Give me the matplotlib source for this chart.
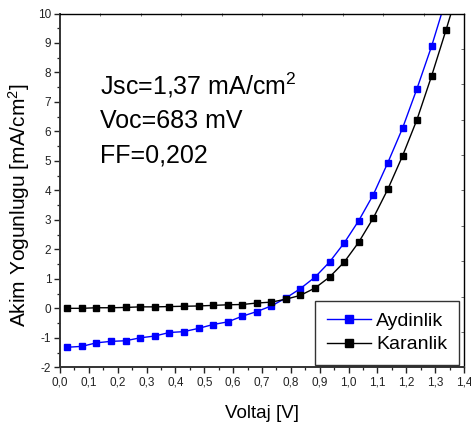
import matplotlib
matplotlib.use("Agg")
import matplotlib.pyplot as plt
from matplotlib.ticker import MultipleLocator, FixedLocator, NullFormatter

plt.rcParams['font.family'] = ['Liberation Sans', 'DejaVu Sans']
plt.rcParams['mathtext.fontset'] = 'custom'
plt.rcParams['mathtext.rm'] = 'Liberation Sans'
plt.rcParams['mathtext.it'] = 'Liberation Sans'

# ---- data ----
voltage = [0.025, 0.076, 0.126, 0.177, 0.227, 0.278, 0.328, 0.379, 0.429,
           0.480, 0.530, 0.581, 0.631, 0.682, 0.732, 0.783, 0.833, 0.884,
           0.934, 0.985, 1.035, 1.086, 1.136, 1.187, 1.237, 1.288, 1.338, 1.389]
aydinlik = [-1.32, -1.29, -1.17, -1.12, -1.10, -1.00, -0.94, -0.82, -0.79,
            -0.68, -0.55, -0.46, -0.27, -0.11, 0.08, 0.35, 0.67, 1.06,
            1.57, 2.22, 2.97, 3.86, 4.94, 6.11, 7.45, 8.90, 10.5]
karanlik = [0.00, 0.00, 0.02, 0.02, 0.03, 0.05, 0.05, 0.06, 0.07,
            0.08, 0.10, 0.12, 0.13, 0.18, 0.21, 0.31, 0.44, 0.69,
            1.06, 1.57, 2.24, 3.07, 4.04, 5.17, 6.40, 7.89, 9.45, 11.1]
series_names = ['Aydinlik', 'Karanlik']
series_colors = ['#0000ff', '#000000']
xtick_vals = [0.0, 0.1, 0.2, 0.3, 0.4, 0.5, 0.6, 0.7, 0.8, 0.9, 1.0, 1.1, 1.2, 1.3, 1.4]
xtick_labels = ['0,0', '0,1', '0,2', '0,3', '0,4', '0,5', '0,6', '0,7',
                '0,8', '0,9', '1,0', '1,1', '1,2', '1,3', '1,4']
ytick_vals = [-2, -1, 0, 1, 2, 3, 4, 5, 6, 7, 8, 9, 10]
annot_lines = [r'Jsc=1,37 mA/cm$^{2}$', 'Voc=683 mV', 'FF=0,202']

W, H = 471, 428
fig = plt.figure(figsize=(W / 100, H / 100), dpi=100)
ax = fig.add_axes([60 / W, 1 - 367.3 / H, (464 - 60) / W, (367.3 - 13.5) / H])

ax.plot(voltage[:len(aydinlik)], aydinlik, color=series_colors[0], lw=1.0,
        marker='s', ms=4.6, mec=series_colors[0], mfc=series_colors[0],
        label=series_names[0], clip_on=True)
ax.plot(voltage[:len(karanlik)], karanlik, color=series_colors[1], lw=1.0,
        marker='s', ms=4.6, mec=series_colors[1], mfc=series_colors[1],
        label=series_names[1], clip_on=True)

ax.set_xlim(0, 1.4)
ax.set_ylim(-2, 10)
ax.set_xticks(xtick_vals)
ax.set_xticklabels(xtick_labels)
ax.set_yticks(ytick_vals)
ax.set_yticklabels([str(v) for v in ytick_vals])
ax.xaxis.set_minor_locator(MultipleLocator(0.05))
ax.yaxis.set_minor_locator(MultipleLocator(0.5))
ax.tick_params(which='major', direction='out', length=4.3, width=1.0,
               labelsize=8.5, colors='#222222', pad=2)
ax.tick_params(which='minor', direction='out', length=2.2, width=0.9, colors='#222222')
ax.tick_params(top=False, right=False)
for s in ['left', 'bottom']:
    ax.spines[s].set_linewidth(1.4)
    ax.spines[s].set_color('#333333')
for s in ['top', 'right']:
    ax.spines[s].set_linewidth(1.0)
    ax.spines[s].set_color('black')

# top / right axes with their own inward ticks
secx = ax.secondary_xaxis('top')
secx.xaxis.set_major_locator(FixedLocator([0.14 * k for k in range(11)]))
secx.xaxis.set_major_formatter(NullFormatter())
secx.tick_params(direction='in', length=2.5, width=0.6, colors='#555555')
secx.spines['top'].set_visible(False)
secy = ax.secondary_yaxis('right')
secy.yaxis.set_major_locator(FixedLocator([-2 + 1.2 * k for k in range(11)]))
secy.yaxis.set_major_formatter(NullFormatter())
secy.tick_params(direction='in', length=2.5, width=0.6, colors='#555555')
secy.spines['right'].set_visible(False)

fig.text(262 / W, 1 - 413 / H, 'Voltaj [V]', ha='center', va='center', fontsize=13.5)
fig.text(19.5 / W, 1 - 205 / H, 'Akim Yogunlugu [mA/cm$^{2}$]', ha='center',
         va='center', rotation=90, fontsize=15)

baselines = [95, 127.5, 163]
for txt, b in zip(annot_lines, baselines):
    fig.text(100 / W, 1 - b / H, txt, ha='left', va='baseline', fontsize=18)

leg = ax.legend(loc='lower right', bbox_to_anchor=(459 / W, 1 - 365 / H),
                bbox_transform=fig.transFigure, borderaxespad=0, fancybox=False,
                frameon=True, edgecolor='black', fontsize=14, handlelength=2.3,
                handletextpad=0.25, labelspacing=0.3, borderpad=0.6,
                markerscale=1.4)
leg.get_frame().set_linewidth(1.0)

fig.savefig('out.png', dpi=100)
